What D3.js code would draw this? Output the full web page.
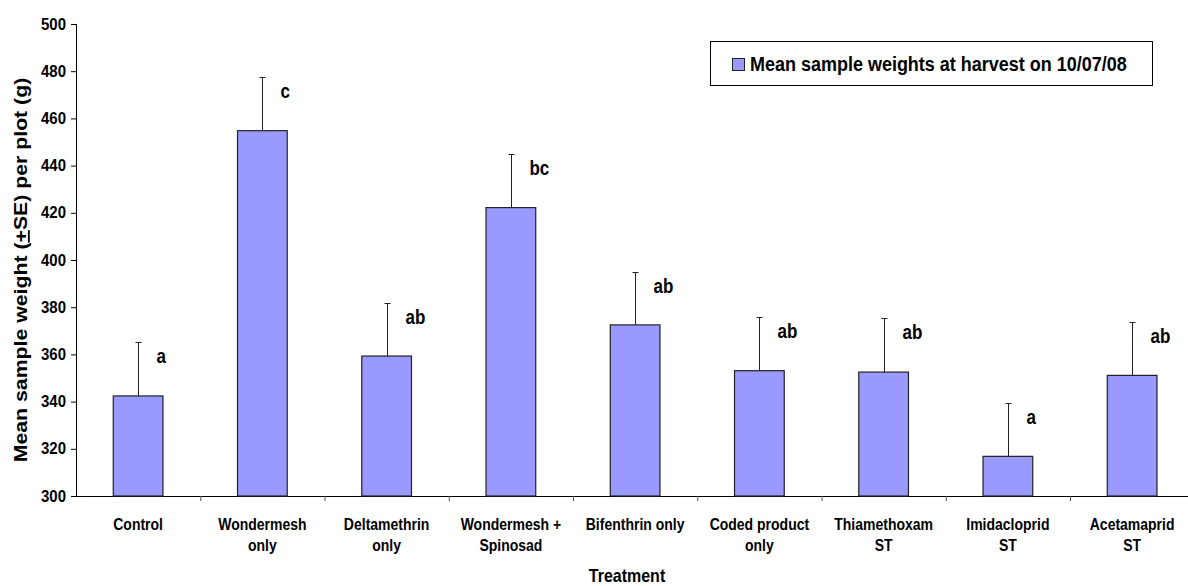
<!DOCTYPE html>
<html>
<head>
<meta charset="utf-8">
<script src="https://cdn.jsdelivr.net/npm/d3@7"></script>
<style>
body { margin: 0; background: #fff; }
text { font-family: "Liberation Sans", Arial, sans-serif; font-weight: bold; fill: #000; }
</style>
</head>
<body>
<svg id="chart" width="1188" height="586"></svg>
<script>
// chart data
var treatments = [
	["Control"],
	["Wondermesh", "only"],
	["Deltamethrin", "only"],
	["Wondermesh +", "Spinosad"],
	["Bifenthrin only"],
	["Coded product", "only"],
	["Thiamethoxam", "ST"],
	["Imidacloprid", "ST"],
	["Acetamaprid", "ST"]
];
var means = [342.4, 454.8, 359.3, 422.2, 372.5, 353.1, 352.5, 316.8, 351.1];
var se = [22.7, 22.9, 22.6, 22.7, 22.5, 22.7, 22.8, 22.7, 22.8];
var letters = ["a", "c", "ab", "bc", "ab", "ab", "ab", "a", "ab"];
var yTicks = [300, 320, 340, 360, 380, 400, 420, 440, 460, 480, 500];
var legendLabel = "Mean sample weights at harvest on 10/07/08";

var svgWidth = 1188,
	svgHeight = 586,
	plotLeft = 76,
	plotTop = 24,
	plotBottom = 496,
	step = 124.25,
	sy = 1.15; // the picture's text is a little taller than it is wide

var svg = d3.select('#chart');

var x = d3.scaleBand()
	.domain(d3.range(treatments.length))
	.range([plotLeft, plotLeft + step * treatments.length]);
var xEdge = d3.scaleLinear()
	.domain([0, treatments.length])
	.range([plotLeft, plotLeft + step * treatments.length]);
var y = d3.scaleLinear()
	.domain([300, 500])
	.range([plotBottom, plotTop]);

var barW = x.bandwidth() * 0.4;

function label(g, px, py, str, size, anchor) {
	return g.append('text')
		.attr('transform', 'translate(' + px + ',' + py + ') scale(1,' + sy + ')')
		.attr('text-anchor', anchor || 'middle')
		.attr('font-size', size + 'px')
		.text(str);
}

// y axis
var yAxis = svg.append('g')
	.attr('transform', 'translate(' + plotLeft + ',0)')
	.call(d3.axisLeft(y).tickValues(yTicks).tickSize(5).tickFormat(''));
yAxis.select('.domain').attr('stroke', '#000').attr('d', 'M0.5,' + plotTop + 'V' + plotBottom);
yAxis.selectAll('.tick line').attr('stroke', '#000');
yTicks.forEach(function(t) {
	label(svg, plotLeft - 10, y(t) + 5.5, t, 15, 'end');
});

// x axis
var xAxis = svg.append('g')
	.attr('transform', 'translate(0,' + plotBottom + ')')
	.call(d3.axisBottom(xEdge).tickValues(d3.range(1, treatments.length + 1)).tickSize(5).tickFormat(''));
xAxis.select('.domain').attr('stroke', '#000').attr('d', 'M' + plotLeft + ',0.5H' + svgWidth);
xAxis.selectAll('.tick line').attr('stroke', '#555');

treatments.forEach(function(lines, i) {
	var cx = x(i) + x.bandwidth() / 2;
	lines.forEach(function(l, j) {
		label(svg, cx, 530 + j * 21, l, 14);
	});
});

// bars
var bars = svg.append('g');
bars.selectAll('rect')
	.data(means)
	.enter().append('rect')
	.attr('x', function(d, i) { return x(i) + (x.bandwidth() - barW) / 2; })
	.attr('y', function(d) { return y(d); })
	.attr('width', barW)
	.attr('height', function(d) { return plotBottom - y(d); })
	.attr('fill', '#9999ff')
	.attr('stroke', '#222')
	.attr('stroke-width', 1.2);

// error bars (upper only)
var err = svg.append('g').attr('stroke', '#222').attr('stroke-width', 1);
means.forEach(function(m, i) {
	var cx = Math.round(x(i) + x.bandwidth() / 2) + 0.5;
	var yt = Math.round(y(m + se[i])) + 0.5;
	err.append('line').attr('x1', cx).attr('x2', cx).attr('y1', y(m)).attr('y2', yt);
	err.append('line').attr('x1', cx - 3).attr('x2', cx + 3).attr('y1', yt).attr('y2', yt);
	label(svg, cx + 18, y(m + se[i]) + 21, letters[i], 17, 'start');
});

// axis titles
label(svg, 627, 582, 'Treatment', 16);
var yTitle = svg.append('text')
	.attr('transform', 'translate(27,270) scale(1,' + sy + ') rotate(-90)')
	.attr('text-anchor', 'middle')
	.attr('font-size', '18.5px');
yTitle.append('tspan').text('Mean sample weight (');
yTitle.append('tspan').attr('text-decoration', 'underline').text('+');
yTitle.append('tspan').text('SE) per plot (g)');

// legend
var leg = svg.append('g');
leg.append('rect')
	.attr('x', 710.5).attr('y', 41.5)
	.attr('width', 442).attr('height', 44)
	.attr('fill', '#fff').attr('stroke', '#000').attr('stroke-width', 1);
leg.append('rect')
	.attr('x', 732.5).attr('y', 58.5)
	.attr('width', 12).attr('height', 12)
	.attr('fill', '#9999ff').attr('stroke', '#222');
label(leg, 750, 71, legendLabel, 18, 'start');
</script>
</body>
</html>
